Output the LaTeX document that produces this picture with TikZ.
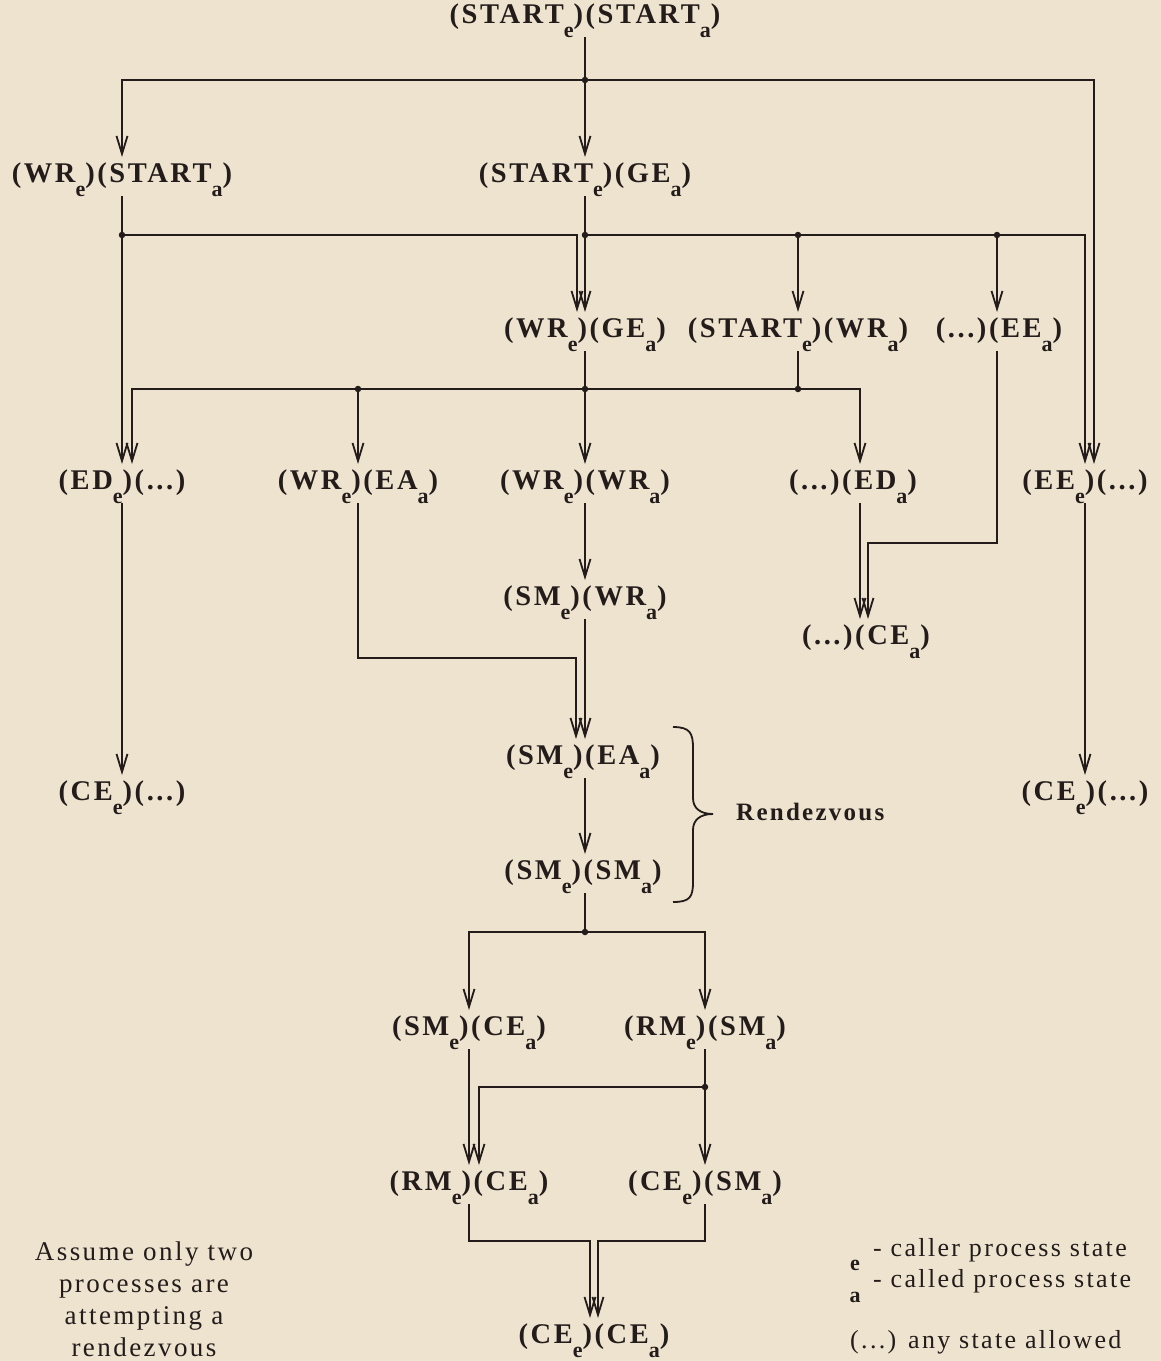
\documentclass[tikz,border=0pt]{standalone}
\usepackage{fontspec}
\setmainfont{Liberation Serif}[LetterSpace=9]
\usetikzlibrary{arrows.meta}
\definecolor{paper}{RGB}{237,227,207}
\definecolor{ink}{RGB}{35,28,26}
% lowered state index (e = caller, a = called)
\newcommand\lowsub[1]{\raisebox{-14pt}{\fontsize{22}{22}\selectfont #1}}

\begin{document}
\begin{tikzpicture}[x=1pt,y=-1pt,
  state/.style={inner sep=0pt, outer sep=0pt, text height=25pt, text depth=14pt,
    anchor=base, font=\fontsize{28.5}{32}\selectfont\bfseries, text=ink},
  link/.style={draw=ink, line width=1.8pt},
  arr/.style={link, -{Straight Barb[length=18pt,width=11pt]}},
  junction/.style={circle, fill=ink, inner sep=0pt, minimum size=6.5pt},
  note/.style={font=\fontsize{27}{32}\selectfont, text=ink, inner sep=0pt},
  legend/.style={font=\fontsize{26}{32}\selectfont, text=ink, inner sep=0pt, anchor=base west}
]
\fill[paper] (0,0) rectangle (1161,1361);
\useasboundingbox (0,0) rectangle (1161,1361);

% states
\node[state] (s0)   at (585,23)   {(START\lowsub{e})(START\lowsub{a})};
\node[state] (wrs)  at (122,182)  {(WR\lowsub{e})(START\lowsub{a})};
\node[state] (sg)   at (585,182)  {(START\lowsub{e})(GE\lowsub{a})};
\node[state] (wg)   at (585,337)  {(WR\lowsub{e})(GE\lowsub{a})};
\node[state] (sw)   at (798,337)  {(START\lowsub{e})(WR\lowsub{a})};
\node[state] (eea)  at (999,337)  {(...)(EE\lowsub{a})};
\node[state] (ed)   at (122,489)  {(ED\lowsub{e})(...)};
\node[state] (wrea) at (358,489)  {(WR\lowsub{e})(EA\lowsub{a})};
\node[state] (wrwr) at (585,489)  {(WR\lowsub{e})(WR\lowsub{a})};
\node[state] (eda)  at (853,489)  {(...)(ED\lowsub{a})};
\node[state] (eee)  at (1085,489) {(EE\lowsub{e})(...)};
\node[state] (smwr) at (585,605)  {(SM\lowsub{e})(WR\lowsub{a})};
\node[state] (cea)  at (866,644)  {(...)(CE\lowsub{a})};
\node[state] (smea) at (583,764)  {(SM\lowsub{e})(EA\lowsub{a})};
\node[state] (cel)  at (122,800)  {(CE\lowsub{e})(...)};
\node[state] (cer)  at (1085,800) {(CE\lowsub{e})(...)};
\node[state] (smsm) at (583,879)  {(SM\lowsub{e})(SM\lowsub{a})};
\node[state] (smce) at (469,1035) {(SM\lowsub{e})(CE\lowsub{a})};
\node[state] (rmsm) at (705,1035) {(RM\lowsub{e})(SM\lowsub{a})};
\node[state] (rmce) at (469,1190) {(RM\lowsub{e})(CE\lowsub{a})};
\node[state] (cesm) at (705,1190) {(CE\lowsub{e})(SM\lowsub{a})};
\node[state] (cece) at (594,1343) {(CE\lowsub{e})(CE\lowsub{a})};

% branch points
\node[junction] (j80)   at (585,80)   {};
\node[junction] (j235a) at (122,235)  {};
\node[junction] (j235b) at (585,235)  {};
\node[junction] (j235c) at (798,235)  {};
\node[junction] (j235d) at (997,235)  {};
\node[junction] (j389a) at (358,389)  {};
\node[junction] (j389b) at (585,389)  {};
\node[junction] (j389c) at (798,389)  {};
\node[junction] (j932)  at (585,932)  {};
\node[junction] (j1087) at (705,1087) {};

% transitions
\draw[link] (s0.south) -- (j80);
\draw[arr] (j80) -| (wrs.north);
\draw[arr] (j80) -- (sg.north);
\draw[arr] (j80) -| ([xshift=9pt]eee.north);

\draw[link] (wrs.south) -- (j235a);
\draw[arr] (j235a) -- (ed.north);
\draw[arr] (j235a) -| ([xshift=-8pt]wg.north);
\draw[link] (sg.south) -- (j235b);
\draw[arr] (j235b) -- (wg.north);
\draw[arr] (j235b) -| (eee.north);
\draw[arr] (j235c) -- (sw.north);
\draw[arr] (j235d) -- ([xshift=-2pt]eea.north);

\draw[link] (wg.south) -- (j389b);
\draw[link] (sw.south) -- (j389c);
\draw[arr] (j389b) -| ([xshift=10pt]ed.north);
\draw[arr] (j389b) -| ([xshift=7pt]eda.north);
\draw[arr] (j389a) -- (wrea.north);
\draw[arr] (j389b) -- (wrwr.north);

\draw[arr] (ed.south) -- (cel.north);
\draw[arr] (wrea.south) -- ++(0,155) -| ([xshift=-7pt]smea.north);
\draw[arr] (wrwr.south) -- (smwr.north);
\draw[arr] (smwr.south) -- ([xshift=2pt]smea.north);
\draw[arr] ([xshift=7pt]eda.south) -- ([xshift=-6pt]cea.north);
\draw[arr] ([xshift=-2pt]eea.south) -- ++(0,192) -| ([xshift=2pt]cea.north);
\draw[arr] (eee.south) -- (cer.north);

\draw[arr] ([xshift=2pt]smea.south) -- ([xshift=2pt]smsm.north);
\draw[link] ([xshift=2pt]smsm.south) -- (j932);
\draw[arr] (j932) -| (smce.north);
\draw[arr] (j932) -| (rmsm.north);
\draw[arr] (smce.south) -- (rmce.north);
\draw[link] (rmsm.south) -- (j1087);
\draw[arr] (j1087) -- (cesm.north);
\draw[arr] (j1087) -| ([xshift=10pt]rmce.north);
\draw[arr] (rmce.south) -- ++(0,37) -| ([xshift=-4pt]cece.north);
\draw[arr] (cesm.south) -- ++(0,37) -| ([xshift=4pt]cece.north);

% rendezvous brace
\draw[link] (673,727) .. controls (690,727) and (693,733) .. (693,748)
  -- (693,798) .. controls (693,808) and (700,814) .. (713,814)
  .. controls (700,814) and (693,820) .. (693,830)
  -- (693,882) .. controls (693,897) and (690,902) .. (673,902);
\node[anchor=base west, inner sep=0pt, text=ink, font=\fontsize{25}{30}\selectfont\bfseries] (rdv) at (736,820) {Rendezvous};

% notes and legend
\node[note, align=center] (assume) at (144,1299) {Assume only two\\processes are\\attempting a\\rendezvous};
\node[anchor=base, inner sep=0pt, text=ink, font=\fontsize{22}{22}\selectfont\bfseries] (le) at (855,1270) {e};
\node[anchor=base, inner sep=0pt, text=ink, font=\fontsize{22}{22}\selectfont\bfseries] (la) at (855,1302) {a};
\node[legend] (lg1) at (873,1256) {- caller process state};
\node[legend] (lg2) at (873,1287) {- called process state};
\node[legend] (lg3) at (850,1348) {(...) any state allowed};
\end{tikzpicture}
\end{document}
